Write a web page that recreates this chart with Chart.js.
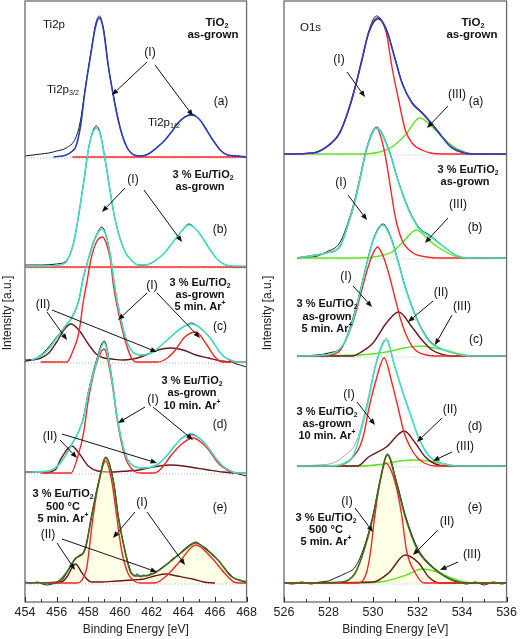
<!DOCTYPE html>
<html><head><meta charset="utf-8">
<script src="https://cdn.jsdelivr.net/npm/chart.js@4.4.1/dist/chart.umd.min.js"></script>
<style>
html,body{margin:0;padding:0;background:#fff;overflow:hidden}
#wrap{position:relative;width:520px;height:639px}
.c{position:absolute;top:0;width:260px;height:639px}
</style></head>
<body><div id="wrap">
<div class="c" style="left:0"><canvas id="ti"></canvas></div>
<div class="c" style="left:260px"><canvas id="o1s"></canvas></div>
</div>
<script>
// ---------- DATA: [binding energy (eV), intensity (a.u., above each spectrum's own baseline)] ----------
// Ti2p panel
const tiTicks = [454, 456, 458, 460, 462, 464, 466, 468];
const ti_a_meas = [[454,1],[455,3],[455.5,4],[456,6],[456.6,9],[457.2,19],[457.5,36],[457.8,68],[458.2,108],[458.45,132],[458.7,141],[458.95,129],[459.27,91],[459.6,60],[459.85,40],[460.1,24],[460.4,11],[460.7,4],[461.0,1.5],[461.3,1],[461.8,3],[462.3,9],[462.85,17],[463.3,26],[463.67,34],[464.1,40],[464.55,43],[465.0,38],[465.36,30],[465.7,21],[466.0,14],[466.4,6],[466.8,2],[467.4,1],[468,0]];
const ti_a_fit = [[455.8,0],[456.6,2],[457.0,6],[457.2,10],[457.5,30],[457.8,67],[458.2,107],[458.45,130],[458.7,139],[458.95,128],[459.27,90],[459.6,60],[459.85,40],[460.1,24],[460.4,11],[460.7,4],[461.0,1.5],[461.3,1],[461.8,3],[462.3,9],[462.85,17],[463.3,26],[463.67,34],[464.1,40],[464.55,42],[465.0,38],[465.36,30],[465.7,21],[466.0,14],[466.4,6],[466.8,2],[467.4,1],[468,0]];
const ti_a_comp1 = [[457,0],[468,0]];

const ti_b_meas = [[454,2],[455,2],[456,3],[456.6,6],[457.0,20],[457.2,34],[457.7,84],[458.0,117],[458.25,134],[458.5,141],[458.75,134],[458.96,117],[459.3,84],[459.6,55],[459.9,34],[460.3,16],[460.7,7],[461.2,2],[461.6,2],[462.2,6],[462.8,14],[463.4,26],[463.9,36],[464.35,43],[464.8,38],[465.3,27],[465.75,16],[466.2,7],[466.7,2],[467.3,0],[468,0]];
const ti_b_fit = [[454,1],[455,1],[456,1.5],[456.6,5],[457.0,20],[457.2,34],[457.7,84],[458.0,117],[458.25,133],[458.5,139],[458.75,133],[458.96,117],[459.3,84],[459.6,55],[459.9,34],[460.3,16],[460.7,7],[461.2,2],[461.6,2],[462.2,6],[462.8,14],[463.4,26],[463.9,36],[464.35,42],[464.8,38],[465.3,27],[465.75,16],[466.2,7],[466.7,2],[467.3,1],[468,1]];
const ti_b_comp1 = [[454,0],[468,0]];

const ti_c_meas = [[454,2],[454.6,3],[455,7],[455.5,15],[456,25],[456.6,37],[457.0,46],[457.4,62],[457.7,86],[458.0,103],[458.3,119],[458.6,130],[458.85,135],[459.1,128],[459.4,106],[459.7,72],[460.1,40],[460.4,22],[460.7,12],[461.0,8],[461.4,7],[461.8,8],[462.2,11],[462.7,18],[463.2,25],[463.7,32],[464.1,36],[464.5,39],[464.9,36],[465.3,31],[465.7,24],[466.0,17],[466.3,10],[466.6,5],[467.0,1],[467.2,-1],[467.6,-3],[468,-5]];
const ti_c_fit = [[454.4,2],[455,6],[455.5,13],[456,24],[456.6,37],[457.0,45],[457.4,61],[457.7,85],[458.0,102],[458.3,118],[458.6,129],[458.85,133],[459.1,127],[459.4,106],[459.7,72],[460.1,40],[460.4,22],[460.7,12],[461.0,8],[461.4,7],[461.8,8],[462.2,11],[462.7,18],[463.2,25],[463.7,32],[464.1,36],[464.5,38],[464.9,36],[465.3,31],[465.7,24],[466.0,17],[466.3,10],[466.6,5],[467.0,2],[467.4,0],[468,0]];
const ti_c_comp1 = [[455,0],[456.65,0],[457.0,10],[457.4,29],[457.7,62],[457.9,79],[458.2,105],[458.55,121],[458.9,125],[459.15,118],[459.4,102],[459.6,75],[459.9,50],[460.3,23],[460.7,5],[461.0,0],[462.4,0],[463.0,4],[463.5,12],[464.1,25],[464.8,30],[465.45,18],[466.0,5],[466.5,0],[468,0]];
const ti_c_comp2 = [[454,1],[455,4],[455.5,9],[456,20],[456.5,33],[456.9,38],[457.4,32],[458.0,18],[458.5,8],[459.0,4],[459.5,3],[460.2,2],[460.8,3],[461.3,5],[461.8,8],[462.4,12],[463.2,14],[464.0,12],[464.8,7],[465.6,4],[466.4,1],[467,0]];

const ti_d_meas = [[454,1],[455,1],[455.5,2],[456,6],[456.5,16],[457,30],[457.4,42],[457.7,56],[458,81],[458.5,112],[459.0,132],[459.5,94],[459.8,58],[460.1,33],[460.4,16],[460.7,9],[461.0,6],[461.5,5],[462,6],[462.5,10],[463,18],[463.5,28],[464,36],[464.5,39],[465,35],[465.5,27],[466,16],[466.5,7],[467,2],[467.5,-1],[468,-3]];
const ti_d_fit = [[454.5,1],[455.5,2],[456,6],[456.5,16],[457,30],[457.4,42],[457.7,55],[458,80],[458.5,110],[459.0,130],[459.5,93],[459.8,58],[460.1,33],[460.4,16],[460.7,9],[461.0,6],[461.5,5],[462,6],[462.5,10],[463,18],[463.5,28],[464,36],[464.5,38],[465,35],[465.5,27],[466,16],[466.5,7],[467,2],[467.5,0],[468,0]];
const ti_d_comp1 = [[455,0],[456.9,0],[457.4,20],[457.7,40],[458.0,73],[458.45,106],[459.0,124],[459.5,90],[459.8,56],[460.1,30],[460.4,13],[460.7,5],[461.0,1],[461.3,0],[462.2,0],[462.7,6],[463.2,17],[463.9,29],[464.6,35],[465.4,27],[465.75,20],[466.2,10],[466.6,5],[467,1],[467.5,0],[468,0]];
const ti_d_comp2 = [[455.2,0],[455.9,3],[456.3,15],[456.95,27],[457.4,20],[458.0,7],[458.6,2],[459.5,1],[460.5,2],[461.2,3],[461.8,5],[462.5,7],[463.2,8],[464.0,7],[464.8,5],[465.6,3],[466.5,1],[467.2,0]];

const ti_e_meas = [[454,1],[454.4,0],[454.8,1],[455.1,-1],[455.4,-2],[455.7,-1],[456,0],[456.3,2],[456.6,9],[456.9,17],[457.2,24],[457.45,28],[457.7,31],[457.9,41],[458.2,67],[458.65,101],[459.1,126],[459.6,101],[459.9,66],[460.3,34],[460.7,11],[460.9,7],[461.1,9],[461.3,6],[461.5,8],[461.7,7],[461.9,9],[462.2,10],[462.6,15],[463.0,19],[463.3,24],[463.7,28],[464.0,33],[464.4,38],[464.8,41],[465.1,38],[465.5,34],[465.9,27],[466.2,23],[466.6,15],[467,8],[467.3,4],[467.6,3],[468,0]];
const ti_e_fit = [[454,0],[456,1],[456.6,10],[457.2,25],[457.45,27],[457.7,30],[457.9,40],[458.2,66],[458.65,100],[459.1,125],[459.6,100],[459.9,66],[460.3,33],[460.7,10],[461.1,7],[461.5,7],[462.2,10],[463.3,23],[464.0,32],[464.8,40],[465.5,33],[466.2,23],[467,7],[467.5,3],[468,1]];
const ti_e_comp1 = [[455,0],[457.3,0],[457.6,3],[457.9,15],[458.05,33],[458.3,66],[458.65,100],[459.1,122],[459.5,100],[459.8,66],[460.1,33],[460.5,10],[461.0,1],[461.3,0],[462.2,0],[462.85,6],[463.7,20],[464.8,38],[465.75,26],[466.6,10],[467.2,1],[467.6,0],[468,0]];
const ti_e_comp2 = [[455.5,0],[456.3,1],[456.6,5],[457.2,19],[457.6,10],[457.9,4],[458.2,1],[458.8,1],[459.8,2],[460.8,3],[461.5,4],[462.2,7],[462.9,9],[463.6,7],[464.6,4],[465.3,1],[466,0]];

// O1s panel
const oTicks = [526, 528, 530, 532, 534, 536];
const o_a_meas = [[526,0],[527.3,1],[527.9,7],[528.5,21],[528.9,44],[529.2,67],[529.5,94],[529.8,122],[530.15,138],[530.6,125],[531.0,95],[531.3,72],[531.75,52],[532.2,42],[532.6,32],[533.1,18],[533.5,9],[534.1,2],[534.6,0],[536,0]];
const o_a_fit = [[526,0],[527.3,1],[527.9,7],[528.5,21],[528.9,44],[529.2,67],[529.5,94],[529.8,121],[530.2,136],[530.6,124],[531.0,94],[531.3,71],[531.75,51],[532.2,41],[532.6,31],[533.1,17],[533.5,7],[534.1,1],[534.6,0],[536,0]];
const o_a_comp1 = [[526,0],[527.3,1],[527.9,7],[528.5,21],[528.9,44],[529.2,67],[529.5,94],[529.8,121],[530.24,135],[530.6,121],[530.85,87],[531.15,54],[531.45,24],[531.75,11],[532.2,4],[532.6,1],[533.2,0],[536,0]];
const o_a_comp3 = [[526,0],[529.4,0],[530.3,2],[530.85,7],[531.45,19],[532.1,36],[532.8,24],[533.4,11],[534,2],[534.6,0],[536,0]];

const o_b_meas = [[526.6,0],[527.5,2],[527.9,6],[528.5,15],[528.9,37],[529.2,60],[529.5,89],[529.7,109],[530.15,131],[530.7,109],[531.15,76],[531.6,49],[532.05,31],[532.6,22],[533.2,11],[533.8,2],[534.4,0],[536,0]];
const o_b_fit = [[526.6,0],[527.9,5],[528.5,11],[528.9,35],[529.2,58],[529.5,88],[529.7,108],[530.15,130],[530.7,108],[531.15,75],[531.6,48],[532.05,30],[532.6,21],[533.2,11],[533.8,2],[534.4,0],[536,0]];
const o_b_comp1 = [[526.6,0],[527.9,5],[528.5,11],[528.9,35],[529.2,58],[529.5,88],[529.7,108],[530.15,130],[530.5,108],[530.8,68],[531.0,41],[531.3,18],[531.8,5],[532.4,1],[533,0],[536,0]];
const o_b_comp3 = [[526.6,0],[529.4,0],[530.3,2],[530.85,6],[531.3,15],[531.95,28],[532.6,16],[533.2,7],[533.8,1],[534.4,0],[536,0]];

const o_c_meas = [[526.6,0],[527.5,1],[528,3],[528.6,9],[528.8,18],[529.1,38],[529.4,63],[529.7,91],[530.0,116],[530.45,132],[530.8,119],[531.1,97],[531.45,69],[531.9,41],[532.25,25],[532.6,14],[533.2,6],[533.8,2],[534.4,0],[536,0]];
const o_c_fit = [[526.6,0],[527.9,1],[528.5,7],[528.8,17],[529.1,36],[529.4,62],[529.7,90],[530.0,115],[530.45,131],[530.8,118],[531.1,96],[531.45,68],[531.9,40],[532.25,24],[532.6,13],[533.2,6],[533.8,2],[534.4,0],[536,0]];
const o_c_comp1 = [[526.6,0],[528,1],[528.5,5],[528.8,17],[529.1,34],[529.4,58],[529.7,83],[529.95,100],[530.2,109],[530.45,100],[530.7,83],[531.0,57],[531.25,36],[531.55,18],[531.9,6],[532.4,1],[533,0],[536,0]];
const o_c_comp2 = [[526.6,0],[529.1,0],[529.4,3],[530,13],[530.6,33],[531.15,44],[531.75,29],[532.2,16],[532.65,6],[533.2,1],[533.8,0],[536,0]];
const o_c_comp3 = [[526.6,0],[529.4,1],[530.6,4],[531.4,8],[532.2,10],[532.7,8],[533.2,6],[534.1,1],[534.8,0],[536,0]];

const o_d_meas = [[526.6,0],[527.5,1],[528.2,3],[528.7,10],[529.2,22],[529.5,42],[529.8,70],[530.1,101],[530.6,128],[530.95,101],[531.3,77],[531.7,51],[532.05,29],[532.35,16],[532.6,9],[533.2,2],[533.8,0],[536,0]];
const o_d_fit = [[526.6,0],[527.9,0],[528.9,5],[529.2,15],[529.5,39],[529.8,66],[530.1,99],[530.6,126],[530.95,102],[531.3,76],[531.7,50],[532.05,28],[532.35,15],[532.6,8],[533.2,2],[533.8,0],[536,0]];
const o_d_comp1 = [[526.6,0],[528.4,0],[528.8,3],[529.1,9],[529.4,19],[529.6,33],[529.8,56],[530.1,83],[530.5,108],[530.85,83],[531.15,56],[531.4,33],[531.67,19],[532.0,8],[532.3,3],[532.8,0],[536,0]];
const o_d_comp2 = [[526.6,0],[529.3,0],[529.8,9],[530.6,19],[531.4,35],[531.9,23],[532.35,9],[532.8,2],[533.3,0],[536,0]];
const o_d_comp3 = [[526.6,0],[529.3,0],[530.5,2],[531.2,5],[531.9,6],[532.5,5],[533.2,2],[534,0],[536,0]];

const o_e_meas = [[526,0],[526.4,-1],[526.8,1],[527.2,-1],[527.6,1],[528,2],[528.3,5],[528.8,10],[529.2,16],[529.6,36],[530.0,68],[530.3,101],[530.65,129],[531.05,102],[531.45,68],[532.0,35],[532.6,18],[533.2,8],[533.8,2],[534.2,-1],[534.6,1],[535,-2],[535.4,1],[535.8,-1],[536,0]];
const o_e_fit = [[526,0],[528.6,1],[529.2,10],[529.6,33],[530.0,66],[530.3,100],[530.65,128],[531.05,100],[531.45,66],[532.0,33],[532.6,17],[533.2,7],[533.8,1],[534.4,0],[536,0]];
const o_e_comp1 = [[526,0],[529.3,0],[529.7,10],[529.9,33],[530.05,62],[530.3,100],[530.55,120],[531.0,100],[531.3,66],[531.5,33],[531.9,10],[532.3,0],[536,0]];
const o_e_comp2 = [[526,0],[530,1],[530.7,10],[531.45,28],[532.05,20],[532.5,6],[533,0],[536,0]];
const o_e_comp3 = [[526,0],[529.3,0],[530.6,2],[531.5,8],[532.2,14],[532.9,11],[533.5,5],[534.1,1],[534.6,0],[536,0]];

// ---------- STYLE / LAYOUT ----------
const FONT = "'Liberation Sans', Arial, Helvetica, sans-serif";
Chart.defaults.font.family = FONT;
const COL = {meas:'#1a1a1a', measLight:'#a8a8a8', blue:'#2a3cc0', cyan:'#3fe0c4', olive:'#3f6a1c',
             red:'#ff2323', brown:'#6b1717', green:'#5ee51e', base:'#b0b0b0', fill:'rgba(255,255,200,0.45)'};
const tiOff = {a:445, b:335, c:240, d:129, e:19};
const oOff  = {a:448, b:344, c:246, d:136, e:19};

function line(pts, off, color, w, extra) {
  return Object.assign({
    data: pts.map(p => ({x:p[0], y:p[1] + off})),
    borderColor: color, backgroundColor: color, borderWidth: w,
    pointRadius: 0, fill: false, cubicInterpolationMode: 'monotone'
  }, extra || {});
}
function baseLine(x0, x1, off) {
  return line([[x0,-1],[x1,-1]], off, COL.base, 1, {borderDash:[1,2]});
}

function spectrum(list, s) {
  list.push(baseLine(s.x0, s.x1, s.off));
  if (s.fill) list.push(line(s.fit, s.off, 'rgba(0,0,0,0)', 0, {fill:{value:s.off}, backgroundColor: COL.fill}));
  list.push(line(s.meas, s.off, s.measCol || COL.meas, 1));
  s.comps.forEach(c => list.push(line(c[0], s.off, c[1], 1.4)));
  list.push(line(s.fit, s.off, s.fitCol, 1.6));
}

const tiSets = [];
spectrum(tiSets, {off:tiOff.a, x0:454, x1:468, meas:ti_a_meas, fit:ti_a_fit, fitCol:COL.blue, comps:[[ti_a_comp1, COL.red]]});
spectrum(tiSets, {off:tiOff.b, x0:454, x1:468, meas:ti_b_meas, fit:ti_b_fit, fitCol:COL.cyan, comps:[[ti_b_comp1, COL.red]]});
spectrum(tiSets, {off:tiOff.c, x0:454, x1:468, meas:ti_c_meas, fit:ti_c_fit, fitCol:COL.cyan, comps:[[ti_c_comp2, COL.brown],[ti_c_comp1, COL.red]]});
spectrum(tiSets, {off:tiOff.d, x0:454, x1:468, meas:ti_d_meas, fit:ti_d_fit, fitCol:COL.cyan, comps:[[ti_d_comp2, COL.brown],[ti_d_comp1, COL.red]]});
spectrum(tiSets, {off:tiOff.e, x0:454, x1:468, meas:ti_e_meas, fit:ti_e_fit, fitCol:COL.olive, fill:true, comps:[[ti_e_comp2, COL.brown],[ti_e_comp1, COL.red]]});

const oSets = [];
spectrum(oSets, {off:oOff.a, x0:526.2, x1:535.8, meas:o_a_meas, fit:o_a_fit, fitCol:COL.blue, comps:[[o_a_comp3, COL.green],[o_a_comp1, COL.red]]});
spectrum(oSets, {off:oOff.b, x0:526.6, x1:535.8, meas:o_b_meas, fit:o_b_fit, fitCol:COL.cyan, comps:[[o_b_comp3, COL.green],[o_b_comp1, COL.red]]});
spectrum(oSets, {off:oOff.c, x0:526.6, x1:535.8, meas:o_c_meas, fit:o_c_fit, fitCol:COL.cyan, comps:[[o_c_comp3, COL.green],[o_c_comp2, COL.brown],[o_c_comp1, COL.red]]});
spectrum(oSets, {off:oOff.d, x0:526.6, x1:535.8, meas:o_d_meas, measCol:COL.measLight, fit:o_d_fit, fitCol:COL.cyan, comps:[[o_d_comp3, COL.green],[o_d_comp2, COL.brown],[o_d_comp1, COL.red]]});
spectrum(oSets, {off:oOff.e, x0:527.5, x1:535.8, meas:o_e_meas, fit:o_e_fit, fitCol:COL.olive, fill:true, comps:[[o_e_comp3, COL.green],[o_e_comp2, COL.brown],[o_e_comp1, COL.red]]});

// ---------- annotations (page pixel positions) ----------
const SAMPLE = [['3 % Eu/TiO',0],['2',1]];
const ARP = (m) => [[m + ' min. Ar',0],['+',2]];
const tiNotes = {
  texts: [
    {s:[['Ti2p',0]], x:43, y:25, size:11.5, align:'left'},
    {s:[['TiO',0],['2',1]], x:217, y:23, size:11.5, bold:true},
    {s:[['as-grown',0]], x:213, y:35, size:11.5, bold:true},
    {s:[['(I)',0]], x:150, y:53, size:12},
    {s:[['Ti2p',0],['3/2',1]], x:47, y:90, size:11.5, align:'left'},
    {s:[['Ti2p',0],['1/2',1]], x:148, y:123, size:11.5, align:'left'},
    {s:[['(a)',0]], x:221, y:102, size:12},
    {s:SAMPLE, x:203, y:175, size:11, bold:true},
    {s:[['as-grown',0]], x:200, y:187, size:11, bold:true},
    {s:[['(I)',0]], x:133, y:180, size:12},
    {s:[['(b)',0]], x:220, y:230, size:12},
    {s:SAMPLE, x:200, y:283, size:11, bold:true},
    {s:[['as-grown',0]], x:200, y:295, size:11, bold:true},
    {s:ARP('5'), x:200, y:307, size:11, bold:true},
    {s:[['(I)',0]], x:152, y:286, size:12},
    {s:[['(II)',0]], x:43, y:305, size:12},
    {s:[['(c)',0]], x:220, y:327, size:12},
    {s:SAMPLE, x:192, y:381, size:11, bold:true},
    {s:[['as-grown',0]], x:192, y:393, size:11, bold:true},
    {s:ARP('10'), x:192, y:406, size:11, bold:true},
    {s:[['(I)',0]], x:153, y:400, size:12},
    {s:[['(II)',0]], x:50, y:437, size:12},
    {s:[['(d)',0]], x:220, y:425, size:12},
    {s:SAMPLE, x:63, y:494, size:11, bold:true},
    {s:[['500 °C',0]], x:63, y:507, size:11, bold:true},
    {s:ARP('5'), x:63, y:519, size:11, bold:true},
    {s:[['(I)',0]], x:142, y:503, size:12},
    {s:[['(II)',0]], x:48, y:535, size:12},
    {s:[['(e)',0]], x:220, y:508, size:12}
  ],
  arrows: [[147,62,112,95],[155,65,193,116],
           [125,188,102,212],[144,190,182,242],
           [147,293,118,320],[157,293,200,338],[47,312,67,340],[52,310,157,352],
           [145,407,118,423],[153,407,193,440],[60,440,77,458],[62,434,157,463],
           [135,512,113,538],[147,512,185,565],[57,543,75,570],[62,539,157,572]]
};
const oNotes = {
  texts: [
    {s:[['O1s',0]], x:300, y:28, size:11.5, align:'left'},
    {s:[['TiO',0],['2',1]], x:473, y:23, size:11.5, bold:true},
    {s:[['as-grown',0]], x:472, y:35, size:11.5, bold:true},
    {s:[['(I)',0]], x:339, y:60, size:12},
    {s:[['(III)',0]], x:457, y:95, size:12},
    {s:[['(a)',0]], x:476, y:102, size:12},
    {s:SAMPLE, x:468, y:170, size:11, bold:true},
    {s:[['as-grown',0]], x:465, y:182, size:11, bold:true},
    {s:[['(I)',0]], x:341, y:183, size:12},
    {s:[['(III)',0]], x:458, y:205, size:12},
    {s:[['(b)',0]], x:475, y:228, size:12},
    {s:[['(I)',0]], x:346, y:277, size:12},
    {s:SAMPLE, x:327, y:304, size:11, bold:true},
    {s:[['as-grown',0]], x:327, y:317, size:11, bold:true},
    {s:ARP('5'), x:327, y:329, size:11, bold:true},
    {s:[['(II)',0]], x:441, y:293, size:12},
    {s:[['(III)',0]], x:462, y:307, size:12},
    {s:[['(c)',0]], x:476, y:340, size:12},
    {s:[['(I)',0]], x:349, y:395, size:12},
    {s:SAMPLE, x:327, y:412, size:11, bold:true},
    {s:[['as-grown',0]], x:327, y:424, size:11, bold:true},
    {s:ARP('10'), x:327, y:436, size:11, bold:true},
    {s:[['(II)',0]], x:450, y:410, size:12},
    {s:[['(III)',0]], x:465, y:447, size:12},
    {s:[['(d)',0]], x:475, y:427, size:12},
    {s:[['(I)',0]], x:347, y:502, size:12},
    {s:SAMPLE, x:326, y:518, size:11, bold:true},
    {s:[['500 °C',0]], x:326, y:530, size:11, bold:true},
    {s:ARP('5'), x:326, y:542, size:11, bold:true},
    {s:[['(II)',0]], x:447, y:522, size:12},
    {s:[['(III)',0]], x:472, y:555, size:12},
    {s:[['(e)',0]], x:475, y:508, size:12}
  ],
  arrows: [[347,72,365,97],[448,106,427,128],
           [348,195,367,220],[448,218,425,243],
           [353,286,372,307],[433,301,408,322],[452,315,435,345],
           [357,402,375,425],[442,418,417,442],[452,452,433,461],
           [355,508,373,532],[438,530,413,555],[458,562,440,570]]
};

function richText(ctx, segs, x, y, size, bold, align) {
  const w = bold ? 'bold ' : '';
  const fontOf = m => w + (m ? size*0.62 : size) + 'px ' + FONT;
  let total = 0;
  segs.forEach(sg => { ctx.font = fontOf(sg[1]); total += ctx.measureText(sg[0]).width; });
  let cx = align === 'left' ? x : x - total/2;
  ctx.textBaseline = 'middle'; ctx.textAlign = 'left'; ctx.fillStyle = '#111';
  segs.forEach(sg => {
    ctx.font = fontOf(sg[1]);
    const dy = sg[1] === 1 ? size*0.3 : (sg[1] === 2 ? -size*0.35 : 0);
    ctx.fillText(sg[0], cx, y + dy);
    cx += ctx.measureText(sg[0]).width;
  });
}
function arrow(ctx, x0, y0, x1, y1) {
  ctx.strokeStyle = '#111'; ctx.fillStyle = '#111'; ctx.lineWidth = 1;
  const a = Math.atan2(y1-y0, x1-x0), L = 6.5, W = 2.6;
  const bx = x1 - L*Math.cos(a), by = y1 - L*Math.sin(a);
  ctx.beginPath(); ctx.moveTo(x0, y0); ctx.lineTo(bx, by); ctx.stroke();
  ctx.beginPath(); ctx.moveTo(x1, y1);
  ctx.lineTo(bx + W*Math.sin(a), by - W*Math.cos(a));
  ctx.lineTo(bx - W*Math.sin(a), by + W*Math.cos(a));
  ctx.closePath(); ctx.fill();
}

function decor(notes, pageX) {
  return {
    id: 'decor',
    afterDraw(chart) {
      const ctx = chart.ctx, ca = chart.chartArea, xs = chart.scales.x;
      ctx.save();
      ctx.strokeStyle = '#6a6a6a'; ctx.lineWidth = 1.3;
      ctx.strokeRect(ca.left, ca.top, ca.right - ca.left, ca.bottom - ca.top);
      ctx.strokeStyle = '#333'; ctx.lineWidth = 1;
      for (let v = xs.min; v <= xs.max + 1e-9; v += 1) {
        const px = Math.round(xs.getPixelForValue(v)) + 0.5;
        const len = (Math.round(v) % 2 === 0) ? 5 : 3;
        ctx.beginPath(); ctx.moveTo(px, ca.bottom); ctx.lineTo(px, ca.bottom - len); ctx.stroke();
      }
      ctx.translate(8, 313); ctx.rotate(-Math.PI/2);
      ctx.font = '12px ' + FONT; ctx.fillStyle = '#222'; ctx.textAlign = 'center'; ctx.textBaseline = 'middle';
      ctx.fillText('Intensity [a.u.]', 0, 0);
      ctx.restore();
      ctx.save();
      ctx.translate(-pageX, 0);
      notes.arrows.forEach(a => arrow(ctx, a[0], a[1], a[2], a[3]));
      notes.texts.forEach(t => richText(ctx, t.s, t.x, t.y, t.size, t.bold, t.align));
      ctx.restore();
    }
  };
}

function makeChart(id, sets, xmin, xmax, ticks, notes, pageX, padLeft) {
  return new Chart(document.getElementById(id), {
    type: 'line',
    data: { datasets: sets.slice().reverse() },
    options: {
      responsive: true, maintainAspectRatio: false, animation: false,
      layout: { padding: { left: padLeft, right: 11, top: 1, bottom: 0 } },
      plugins: { legend: {display:false}, tooltip: {enabled:false} },
      scales: {
        x: {
          type: 'linear', min: xmin, max: xmax,
          afterBuildTicks: s => { s.ticks = ticks.map(v => ({value: v})); },
          afterFit: s => { s.height = 37; },
          grid: { display: false, drawTicks: false }, border: { display: false },
          ticks: { font: { size: 12.5 }, color: '#222', padding: 3, maxRotation: 0 },
          title: { display: true, text: 'Binding Energy [eV]', font: { size: 12 }, color: '#222', padding: { top: 0, bottom: 2 } }
        },
        y: { display: false, min: 0, max: 601 }
      }
    },
    plugins: [decor(notes, pageX)]
  });
}

makeChart('ti', tiSets, 454, 468, tiTicks, tiNotes, 0, 25);
makeChart('o1s', oSets, 526, 536, oTicks, oNotes, 260, 24);
</script>
</body></html>
